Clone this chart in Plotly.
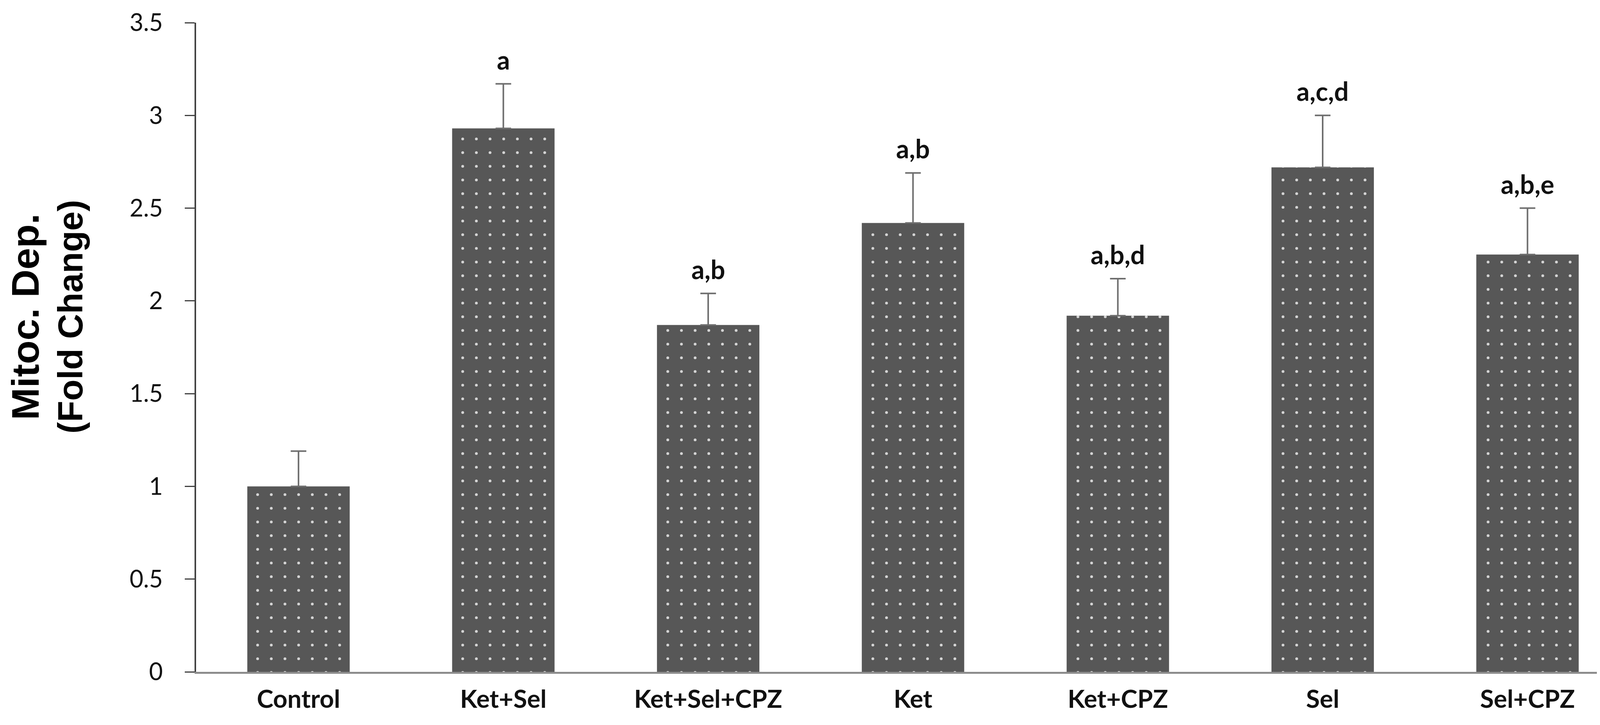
import plotly.graph_objects as go

# group means and SEM
groups = ['Control', 'Ket+Sel', 'Ket+Sel+CPZ', 'Ket', 'Ket+CPZ', 'Sel', 'Sel+CPZ']
fold_change = [1.00, 2.93, 1.87, 2.42, 1.92, 2.72, 2.25]
sem = [0.19, 0.24, 0.17, 0.27, 0.20, 0.28, 0.25]
sig_letters = ['', 'a', 'a,b', 'a,b', 'a,b,d', 'a,c,d', 'a,b,e']

y_ticks = [0, 0.5, 1, 1.5, 2, 2.5, 3, 3.5]

BAR_COLOR = '#575757'
ERR_COLOR = '#6e6e6e'

fig = go.Figure()

fig.add_trace(
    go.Bar(
        x=groups,
        y=fold_change,
        width=0.5,
        marker=dict(
            color=BAR_COLOR,
            line=dict(width=0),
            pattern=dict(
                shape='.',
                fillmode='replace',
                bgcolor=BAR_COLOR,
                fgcolor='#d4d4d4',
                size=35,
                solidity=0.033,
            ),
        ),
        error_y=dict(
            type='data',
            symmetric=False,
            array=sem,
            arrayminus=[0] * len(sem),
            color=ERR_COLOR,
            thickness=4,
            width=20,
        ),
        showlegend=False,
    )
)

# significance letters above the error bars
for g, v, e, s in zip(groups, fold_change, sem, sig_letters):
    if not s:
        continue
    fig.add_annotation(
        x=g, y=v + e, text=s, showarrow=False,
        xanchor='center', yanchor='bottom', yshift=21,
        font=dict(family='Lato', size=66, color='#111111', weight='bold'),
    )

# two-line y title, drawn as rotated annotations
fig.add_annotation(
    xref='paper', yref='paper', x=0, y=0.547, xshift=-438,
    text='Mitoc. Dep.', textangle=-90, showarrow=False,
    xanchor='center', yanchor='middle',
    font=dict(family='Liberation Sans', size=99, color='#000000', weight='bold'),
)
fig.add_annotation(
    xref='paper', yref='paper', x=0, y=0.547, xshift=-322,
    text='(Fold Change)', textangle=-90, showarrow=False,
    xanchor='center', yanchor='middle',
    font=dict(family='Liberation Sans', size=89, color='#000000', weight='bold'),
)

fig.update_xaxes(
    range=[-0.5, 6.455],
    showline=True, linecolor='#8c8c8c', linewidth=5,
    ticks='', showgrid=False, zeroline=False,
    tickfont=dict(family='Lato', size=64, color='#111111', weight='bold'),
    ticklabelstandoff=10,
)
fig.update_yaxes(
    range=[0, 3.5],
    tickvals=y_ticks,
    showline=True, linecolor='#404040', linewidth=4,
    ticks='outside', ticklen=25, tickwidth=3, tickcolor='#404040',
    showgrid=False, zeroline=False,
    tickfont=dict(family='Lato', size=61, color='#111111'),
    ticklabelstandoff=44,
)

fig.update_layout(
    width=4141,
    height=1855,
    margin=dict(l=494, r=0, t=50, b=144),
    plot_bgcolor='white',
    paper_bgcolor='white',
    bargap=0.5,
)

fig.write_html('out.html')
